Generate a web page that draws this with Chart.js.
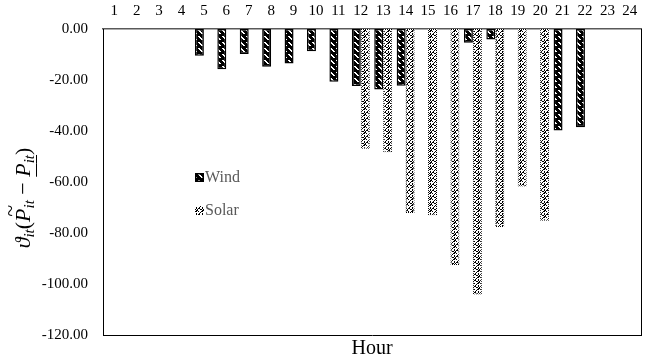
<!DOCTYPE html>
<html>
<head>
<meta charset="utf-8">
<script src="https://cdn.jsdelivr.net/npm/chart.js@4/dist/chart.umd.min.js"></script>
<style>
  html, body { margin: 0; padding: 0; background: #fff; }
  #wrap { width: 660px; height: 362px; }
</style>
</head>
<body>
<div id="wrap"><canvas id="c" width="660" height="362"></canvas></div>
<script>
// Hours of the day
const hours = ['1','2','3','4','5','6','7','8','9','10','11','12','13','14','15','16','17','18','19','20','21','22','23','24'];
// Curtailment cost per hour
const windValues  = [null, null, null, null, -10.5, -15.8, -9.8, -14.8, -13.5, -8.7, -20.7, -22.4, -23.7, -22.3, null, null, -5.4, -4.1, null, null, -39.8, -38.5, null, null];
const solarValues = [null, null, null, null, null, null, null, null, null, null, null, -47.0, -48.3, -72.2, -73.0, -92.5, -104.1, -77.6, -61.8, -75.2, null, null, null, null];
const yTicks = [0, -20, -40, -60, -80, -100, -120];

const SERIF = "'Liberation Serif', 'Times New Roman', serif";

function makeTile(w, h, draw) {
  const c = document.createElement('canvas');
  c.width = w; c.height = h;
  const g = c.getContext('2d');
  draw(g);
  return document.getElementById('c').getContext('2d').createPattern(c, 'repeat');
}

// Dark fill with light diagonal dashes
const windFill = makeTile(6, 6, g => {
  g.fillStyle = '#000'; g.fillRect(0, 0, 6, 6);
  g.fillStyle = '#fff';
  g.fillRect(0, 0, 2, 1); g.fillRect(1, 1, 2, 1); g.fillRect(2, 2, 2, 1); g.fillRect(3, 3, 2, 1);
});
// Light fill with dotted diagonal marks
const solarFill = makeTile(6, 6, g => {
  g.fillStyle = '#fff'; g.fillRect(0, 0, 6, 6);
  g.fillStyle = '#000';
  [[5,0],[4,0],[4,1],[3,1],[2,2],[1,3],[1,4],[0,4],[4,3],[4,4],[5,5],[2,5],[3,5],[0,1]].forEach(p => g.fillRect(p[0], p[1], 1, 1));
});
// Dotted outline for the solar bars
const solarEdge = makeTile(2, 2, g => {
  g.fillStyle = '#fff'; g.fillRect(0, 0, 2, 2);
  g.fillStyle = '#000'; g.fillRect(0, 0, 1, 1); g.fillRect(1, 1, 1, 1);
});

// Rotated axis title with subscripts, tilde and underline
const yTitlePlugin = {
  id: 'yTitle',
  afterDraw(chart) {
    const ctx = chart.ctx;
    const big = 22, small = 15;
    const it = (s) => `italic ${s}px ${SERIF}`;
    const up = (s) => `${s}px ${SERIF}`;
    const parts = [
      { t: '\u03D1', f: it(big), dy: 0 },
      { t: 'it', f: it(small), dy: 6 },
      { t: '(', f: up(big), dy: 0 },
      { t: 'P', f: it(big), dy: 0, tilde: true },
      { t: 'it', f: it(small), dy: 6 },
      { t: ' \u2212 ', f: up(big), dy: 0 },
      { t: 'P', f: it(big), dy: 0, under: true },
      { t: 'it', f: it(small), dy: 6, under: true },
      { t: ')', f: up(big), dy: 0 }
    ];
    let total = 0;
    parts.forEach(p => { ctx.font = p.f; p.w = ctx.measureText(p.t).width; total += p.w; });
    ctx.save();
    ctx.translate(24, 198);
    ctx.rotate(-Math.PI / 2);
    ctx.fillStyle = '#000';
    ctx.strokeStyle = '#000';
    ctx.textBaseline = 'middle';
    ctx.textAlign = 'left';
    let x = -total / 2;
    parts.forEach(p => {
      ctx.font = p.f;
      ctx.fillText(p.t, x, p.dy);
      if (p.tilde) ctx.fillText('~', x + 5, -13);
      if (p.under) {
        ctx.lineWidth = 1;
        ctx.beginPath(); ctx.moveTo(x, 12.5); ctx.lineTo(x + p.w, 12.5); ctx.stroke();
      }
      x += p.w;
    });
    ctx.restore();
  }
};

// Legend placed inside the plot area
const innerLegend = {
  id: 'innerLegend',
  afterDatasetsDraw(chart) {
    const ctx = chart.ctx;
    const x0 = 195, ys = [178, 211];
    chart.data.datasets.forEach((ds, i) => {
      const y = ys[i];
      ctx.save();
      ctx.fillStyle = ds.backgroundColor;
      ctx.fillRect(x0, y - 5, 9, 9);
      if (i === 0) { ctx.strokeStyle = '#000'; ctx.lineWidth = 1.5; ctx.strokeRect(x0 + 0.75, y - 4.25, 7.5, 7.5); }
      ctx.font = `16px ${SERIF}`;
      ctx.fillStyle = '#595959';
      ctx.textBaseline = 'middle';
      ctx.fillText(ds.label, x0 + 10, y);
      ctx.restore();
    });
  }
};

new Chart(document.getElementById('c'), {
  type: 'bar',
  data: {
    labels: hours,
    datasets: [
      { label: 'Wind', data: windValues, backgroundColor: windFill, borderColor: '#000', borderWidth: 1.5, borderSkipped: false },
      { label: 'Solar', data: solarValues, backgroundColor: solarFill, borderColor: solarEdge, borderWidth: 1, borderSkipped: false }
    ]
  },
  plugins: [yTitlePlugin, innerLegend],
  options: {
    responsive: false,
    animation: false,
    devicePixelRatio: 1,
    layout: { padding: { left: 0, right: 0, top: 0, bottom: 0 } },
    datasets: { bar: { categoryPercentage: 0.8, barPercentage: 1.0 } },
    plugins: { legend: { display: false }, tooltip: { enabled: false } },
    scales: {
      x: {
        position: 'top',
        offset: true,
        grid: { display: false, drawTicks: false },
        border: { display: true, color: '#595959', width: 1.5 },
        ticks: { color: '#000', font: { family: SERIF, size: 15 }, padding: 9, maxRotation: 0, autoSkip: false },
        afterFit(s) { s.height = 29; }
      },
      xb: {
        type: 'category',
        position: 'bottom',
        offset: true,
        grid: { display: false, drawTicks: false },
        border: { display: true, color: '#000', width: 1 },
        ticks: { display: false },
        title: { display: true, text: 'Hour', color: '#000', font: { family: SERIF, size: 20 }, padding: { top: 0, bottom: 1 } },
        afterFit(s) { s.height = 27; }
      },
      y: {
        min: -120, max: 0,
        afterBuildTicks(s) { s.ticks = yTicks.map(v => ({ value: v })); },
        grid: { display: false, drawTicks: false },
        border: { display: true, color: '#000', width: 1 },
        ticks: { color: '#000', font: { family: SERIF, size: 15 }, padding: 15, callback: v => Number(v).toFixed(2) },
        afterFit(s) { s.width = 103; }
      },
      yr: {
        position: 'right',
        min: -120, max: 0,
        grid: { display: false, drawTicks: false },
        border: { display: true, color: '#000', width: 1 },
        ticks: { display: false },
        afterFit(s) { s.width = 19; }
      }
    }
  }
});
</script>
</body>
</html>
